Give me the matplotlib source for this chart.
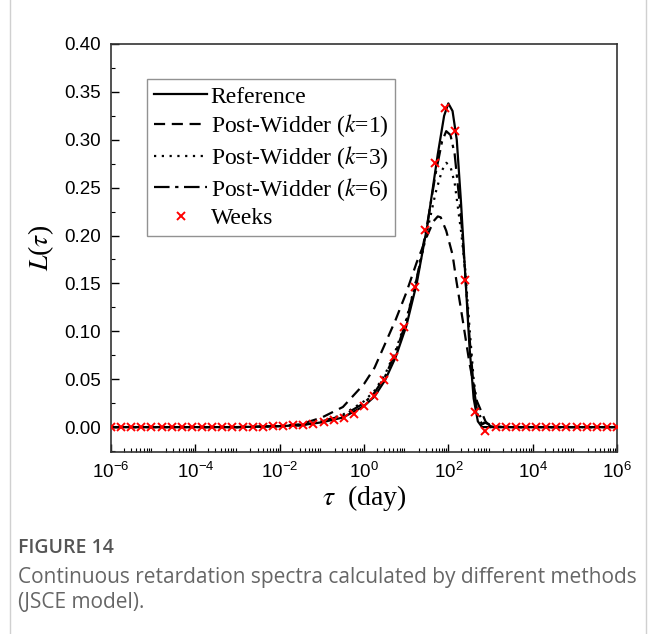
import matplotlib
matplotlib.use('Agg')
import matplotlib.pyplot as plt
import numpy as np
from matplotlib.ticker import LogLocator, MultipleLocator, NullFormatter

# log10(tau) and L(tau)
ref_logtau = [-6, -3, -2.5, -2, -1.5, -1.0, -0.5, 0.0, 0.25, 0.5, 0.75, 1.0, 1.25, 1.5,
              1.75, 1.9, 2.0, 2.1, 2.2, 2.3, 2.4, 2.5, 2.6, 2.7, 2.8, 6]
ref_L = [0, 0, 0.0005, 0.001, 0.002, 0.005, 0.010, 0.022, 0.032, 0.049, 0.073, 0.105, 0.150,
         0.210, 0.285, 0.325, 0.338, 0.330, 0.300, 0.235, 0.160, 0.085, 0.030, 0.006, 0.0, 0]

k1_logtau = [-6, -3, -2, -1.5, -1.0, -0.5, 0.0, 0.25, 0.5, 0.75, 1.0, 1.25, 1.5, 1.65,
             1.75, 1.82, 1.95, 2.1, 2.19, 2.34, 2.5, 2.67, 2.9, 3.1, 3.3, 6]
k1_L = [0, 0, 0.001, 0.003, 0.010, 0.021, 0.045, 0.062, 0.087, 0.112, 0.140, 0.172, 0.200,
        0.215, 0.220, 0.219, 0.205, 0.180, 0.153, 0.112, 0.067, 0.028, 0.004, 0.001, 0, 0]

k3_logtau = [-6, -3, -2, -1.5, -1.0, -0.5, 0.0, 0.25, 0.5, 0.75, 1.0, 1.25, 1.5, 1.7,
             1.85, 1.95, 2.05, 2.15, 2.3, 2.4, 2.5, 2.6, 2.7, 2.8, 2.9, 3.0, 6]
k3_L = [0, 0, 0.001, 0.002, 0.006, 0.013, 0.027, 0.038, 0.055, 0.080, 0.112, 0.155, 0.205,
        0.245, 0.268, 0.276, 0.272, 0.255, 0.205, 0.165, 0.105, 0.050, 0.018, 0.006, 0.001, 0, 0]

k6_logtau = [-6, -3, -2, -1.5, -1.0, -0.5, 0.0, 0.25, 0.5, 0.75, 1.0, 1.25, 1.5, 1.7,
             1.85, 1.95, 2.05, 2.15, 2.3, 2.4, 2.5, 2.6, 2.7, 2.8, 2.9, 3.0, 3.1, 6]
k6_L = [0, 0, 0.001, 0.002, 0.006, 0.012, 0.025, 0.036, 0.053, 0.078, 0.110, 0.155, 0.212,
        0.265, 0.298, 0.309, 0.305, 0.285, 0.220, 0.160, 0.095, 0.042, 0.012, 0.003, 0.005,
        0.001, 0, 0]

# Weeks method: 51 points, 10^-6 .. 10^6
weeks_logtau = np.linspace(-6, 6, 51)
weeks_L = [0, 0, 0, 0, 0, 0, 0, 0, 0, 0, 0, 0, 0, 0, 0.0005, 0.0005, 0.001, 0.001, 0.002,
           0.002, 0.003, 0.005, 0.007, 0.010, 0.014, 0.022, 0.032, 0.049, 0.073, 0.104,
           0.146, 0.206, 0.276, 0.333, 0.309, 0.154, 0.016, -0.004, 0, 0, 0, 0, 0, 0, 0,
           0, 0, 0, 0, 0, 0]

xtick_exp = [-6, -4, -2, 0, 2, 4, 6]
ytick_vals = [0.00, 0.05, 0.10, 0.15, 0.20, 0.25, 0.30, 0.35, 0.40]

serif = 'Liberation Serif'
sans = 'Liberation Sans'
plt.rcParams['mathtext.fontset'] = 'custom'
plt.rcParams['mathtext.rm'] = sans
plt.rcParams['mathtext.it'] = sans + ':italic'
plt.rcParams['mathtext.bf'] = sans + ':bold'
plt.rcParams['mathtext.sf'] = sans
plt.rcParams['axes.unicode_minus'] = False

fig = plt.figure(figsize=(6.56, 6.34), dpi=100)
ax = fig.add_axes([111 / 656, 1 - 452 / 634, 506 / 656, 408 / 634])

tau = lambda v: 10.0 ** np.asarray(v)
ax.plot(tau(ref_logtau), ref_L, color='black', lw=1.6, ls='-', label='Reference')
ax.plot(tau(k1_logtau), k1_L, color='black', lw=1.6, ls=(0, (5, 3)),
        label='Post-Widder ($k$=1)')
ax.plot(tau(k3_logtau), k3_L, color='black', lw=1.6, ls=(0, (1, 2.5)),
        label='Post-Widder ($k$=3)')
ax.plot(tau(k6_logtau), k6_L, color='black', lw=1.6, ls=(0, (7, 2.5, 1.5, 2.5)),
        label='Post-Widder ($k$=6)')
ax.plot(tau(weeks_logtau), weeks_L, ls='none', marker='x', color='red', ms=6, mew=1.4,
        label='Weeks', zorder=5)

ax.set_xscale('log')
ax.set_xlim(1e-6, 1e6)
ax.set_ylim(-0.026, 0.40)
ax.set_xticks([10.0 ** e for e in xtick_exp])
ax.set_xticklabels(['$\\mathregular{10^{%d}}$' % e for e in xtick_exp], fontfamily=sans)
ax.xaxis.set_minor_locator(LogLocator(base=10, subs=np.arange(2, 10), numticks=40))
ax.xaxis.set_minor_formatter(NullFormatter())
ax.set_yticks(ytick_vals)
ax.set_yticklabels(['%.2f' % v for v in ytick_vals], fontfamily=sans)
ax.yaxis.set_minor_locator(MultipleLocator(0.025))

ax.tick_params(axis='both', which='major', direction='in', length=6, width=1,
               top=False, right=False, labelsize=13.5, pad=7)
ax.tick_params(axis='both', which='minor', direction='in', length=3, width=0.8,
               top=False, right=False)
for sp in ax.spines.values():
    sp.set_linewidth(1.2)
    sp.set_color('#333333')

xl = ax.set_xlabel('$\\tau$  (day)', fontsize=20, fontfamily=serif, labelpad=1)
xl.set_math_fontfamily('stix')
yl = ax.set_ylabel('$L$($\\tau$)', fontsize=20, fontfamily=serif, labelpad=6)
yl.set_math_fontfamily('stix')

leg = ax.legend(loc='upper left', bbox_to_anchor=(0.071, 0.914),
                prop={'family': serif, 'size': 17},
                frameon=True, fancybox=False, edgecolor='#777777', handlelength=2.25,
                handletextpad=0.15, borderpad=0.3, labelspacing=0.2, borderaxespad=0)
leg.get_frame().set_linewidth(1.0)
for t in leg.get_texts():
    t.set_math_fontfamily('stix')

# caption below the chart
fig.text(18 / 656, 1 - 548 / 634, 'FIGURE 14', fontsize=14, color='#555555',
         fontfamily='Open Sans', fontweight='semibold', va='center')
fig.text(18 / 656, 1 - 577 / 634, 'Continuous retardation spectra calculated by different methods',
         fontsize=15, color='#666666', fontfamily='Open Sans', va='center')
fig.text(18 / 656, 1 - 603 / 634, '(JSCE model).', fontsize=15, color='#666666',
         fontfamily='Open Sans', va='center')

# card border at the sides
for xpos in (10 / 656, 646 / 656):
    fig.add_artist(plt.Line2D([xpos, xpos], [0, 1], color='#d0d0d0', lw=1))

fig.savefig('out.png', dpi=100)
